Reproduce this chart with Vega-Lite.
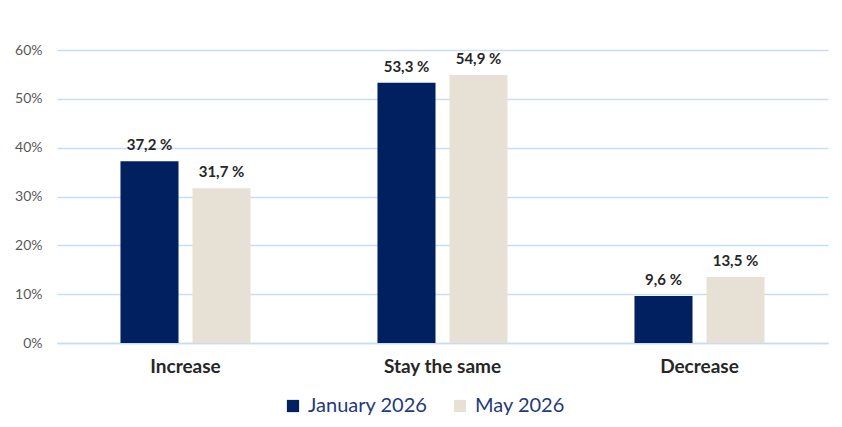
{
  "$schema": "https://vega.github.io/schema/vega-lite/v6.json",
  "autosize": "none",
  "width": 771,
  "height": 293,
  "padding": {"left": 57, "top": 50, "right": 14, "bottom": 84},
  "background": "white",
  "config": {
    "view": {"stroke": null},
    "font": "Lato"
  },
  "data": {
    "values": [
      {"answer": "Increase", "period": "January 2026", "share": 0.372, "label": "37,2 %"},
      {"answer": "Increase", "period": "May 2026", "share": 0.317, "label": "31,7 %"},
      {"answer": "Stay the same", "period": "January 2026", "share": 0.533, "label": "53,3 %"},
      {"answer": "Stay the same", "period": "May 2026", "share": 0.549, "label": "54,9 %"},
      {"answer": "Decrease", "period": "January 2026", "share": 0.096, "label": "9,6 %"},
      {"answer": "Decrease", "period": "May 2026", "share": 0.135, "label": "13,5 %"}
    ]
  },
  "encoding": {
    "x": {
      "field": "answer",
      "type": "nominal",
      "sort": ["Increase", "Stay the same", "Decrease"],
      "scale": {"paddingInner": 0.494, "paddingOuter": 0.247},
      "axis": {
        "title": null,
        "labelAngle": 0,
        "labelFontSize": 19,
        "labelFontWeight": "bold",
        "labelColor": "#262626",
        "labelPadding": 14,
        "ticks": false,
        "domainColor": "#c9dcf5",
        "domainWidth": 1.5
      }
    },
    "xOffset": {
      "field": "period",
      "type": "nominal",
      "scale": {"paddingInner": 0.194, "paddingOuter": 0}
    },
    "y": {
      "field": "share",
      "type": "quantitative",
      "scale": {"domain": [0, 0.6]},
      "axis": {
        "title": null,
        "format": ".0%",
        "values": [0, 0.1, 0.2, 0.3, 0.4, 0.5, 0.6],
        "labelOverlap": false,
        "domain": false,
        "ticks": false,
        "labelFontSize": 14,
        "labelColor": "#595959",
        "labelPadding": 15,
        "gridColor": "#c9dcf5",
        "gridWidth": 1.5
      }
    }
  },
  "layer": [
    {
      "mark": {"type": "bar"},
      "encoding": {
        "color": {
          "field": "period",
          "type": "nominal",
          "scale": {"domain": ["January 2026", "May 2026"], "range": ["#002060", "#e7e1d5"]},
          "legend": {
            "title": null,
            "orient": "none",
            "legendX": 226,
            "legendY": 346,
            "direction": "horizontal",
            "symbolType": "square",
            "symbolSize": 150,
            "symbolStrokeWidth": 0,
            "labelFontSize": 20,
            "labelColor": "#1f3a7a",
            "labelOffset": 5,
            "columnPadding": 22
          }
        }
      }
    },
    {
      "mark": {"type": "text", "baseline": "bottom", "dy": -8, "fontSize": 15, "fontWeight": "bold", "color": "#262626"},
      "encoding": {
        "text": {"field": "label"}
      }
    }
  ]
}
